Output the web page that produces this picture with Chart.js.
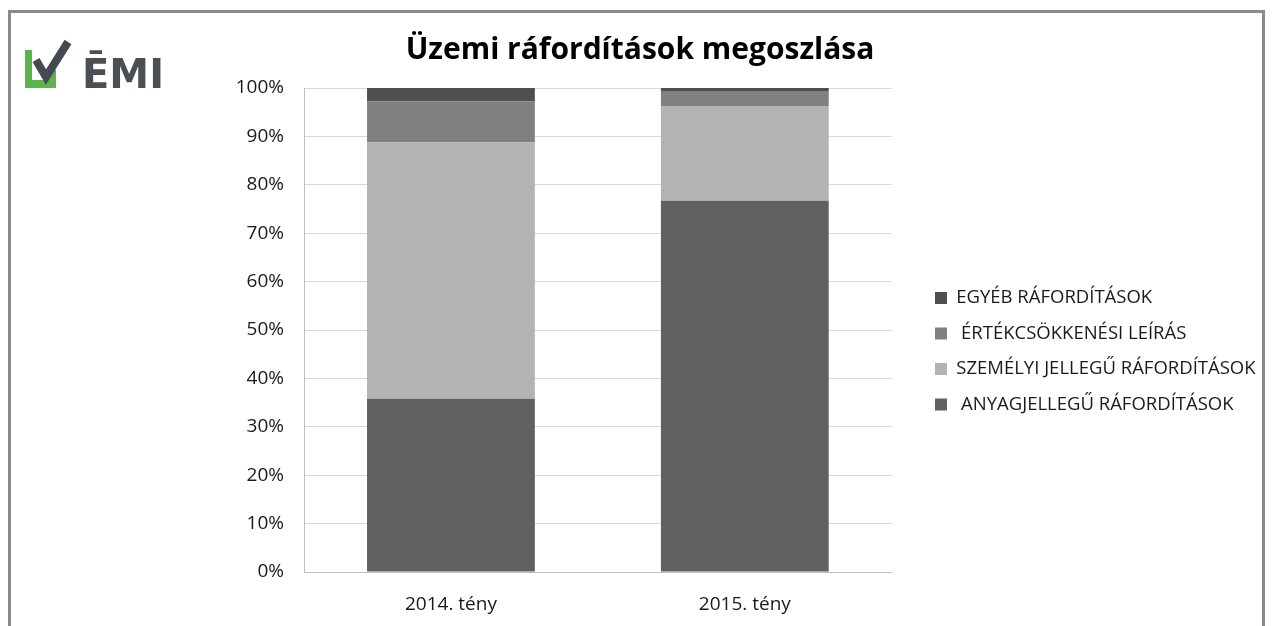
<!DOCTYPE html>
<html>
<head>
<meta charset="utf-8">
<script src="https://cdn.jsdelivr.net/npm/chart.js@4/dist/chart.umd.min.js"></script>
<style>
  html, body { margin: 0; padding: 0; background: #fff; overflow: hidden; }
  #wrap { position: relative; width: 1276px; height: 626px; }
  #frame { position: absolute; left: 8px; top: 10px; width: 1257px; height: 700px; border: 3px solid #8a8a8a; box-sizing: border-box; pointer-events: none; }
  #logo { position: absolute; left: 20px; top: 36px; }
  canvas { position: absolute; left: 0; top: 0; }
</style>
</head>
<body>
<div id="wrap">
  <canvas id="chart" width="1276" height="626"></canvas>
  <div id="frame"></div>
  <svg id="logo" width="160" height="60" viewBox="20 36 160 60">
    <polygon points="25,50 32,50 32,80 48,80 48,70 56,70 56,88 25,88" fill="#5bb54a"/>
    <polyline points="36,60 46,77 68,42" fill="none" stroke="#444a50" stroke-width="8" stroke-linejoin="miter"/>
    <text x="82" y="88" font-family="DejaVu Sans" font-weight="bold" font-size="40" fill="#4a4f55">ĒMI</text>
  </svg>
</div>
<script>
// Üzemi ráfordítások megoszlása (%)
const categories = ['2014. tény', '2015. tény'];
const anyagjellegu = [35.8, 76.7];
const szemelyi = [53.0, 19.5];
const ertekcsokkenes = [8.4, 3.2];
const egyeb = [2.8, 0.6];
const yTicks = [0, 10, 20, 30, 40, 50, 60, 70, 80, 90, 100];

// move legend and title to where the original has them
const layoutNudge = {
    id: 'layoutNudge',
    afterLayout(chart) {
        const lg = chart.legend;
        if (lg) {
            const dy = 271.75 - lg.top;
            lg.left = 918;
            lg.right = 1272;
            lg.width = lg.right - lg.left;
            lg.top += dy; lg.bottom += dy;
        }
        const tb = chart.titleBlock;
        if (tb) {
            tb.left = 0;
            tb.right = 1280;
            tb.width = 1280;
        }
    }
};

new Chart(document.getElementById('chart'), {
    type: 'bar',
    data: {
        labels: categories,
        datasets: [
            { label: ' ANYAGJELLEGŰ RÁFORDÍTÁSOK', data: anyagjellegu, backgroundColor: '#606060' },
            { label: 'SZEMÉLYI JELLEGŰ RÁFORDÍTÁSOK', data: szemelyi, backgroundColor: '#b3b3b3' },
            { label: ' ÉRTÉKCSÖKKENÉSI LEÍRÁS', data: ertekcsokkenes, backgroundColor: '#808080' },
            { label: 'EGYÉB RÁFORDÍTÁSOK', data: egyeb, backgroundColor: '#4f4f4f' }
        ]
    },
    options: {
        responsive: false,
        animation: false,
        devicePixelRatio: 1,
        layout: { padding: { left: 0, top: 14, right: 87, bottom: 8 } },
        datasets: { bar: { borderWidth: 0, categoryPercentage: 1, barPercentage: 0.571 } },
        scales: {
            x: {
                stacked: true,
                grid: { display: false },
                border: { color: '#bfbfbf', width: 1 },
                ticks: { color: '#1a1a1a', padding: 13, font: { family: 'Open Sans', size: 19 } },
                afterFit: s => { s.height = 46; }
            },
            y: {
                stacked: true,
                min: 0, max: 100,
                afterBuildTicks: s => { s.ticks = yTicks.map(v => ({ value: v })); },
                grid: { color: '#d9d9d9', drawTicks: false },
                border: { color: '#bfbfbf', width: 1 },
                ticks: { color: '#1a1a1a', padding: 20, font: { family: 'Open Sans', size: 19 }, callback: v => v + '%' },
                afterFit: s => { s.width = 304; }
            }
        },
        plugins: {
            title: {
                display: true,
                text: 'Üzemi ráfordítások megoszlása',
                color: '#000',
                font: { family: 'Open Sans', size: 30, weight: 'bold' },
                padding: { top: 18, bottom: 20 }
            },
            legend: {
                position: 'right',
                align: 'start',
                reverse: true,
                labels: {
                    boxWidth: 12, boxHeight: 12, padding: 17,
                    color: '#1a1a1a',
                    font: { family: 'Open Sans', size: 18.5 }
                }
            },
            tooltip: { enabled: false }
        }
    },
    plugins: [layoutNudge]
});
</script>
</body>
</html>
